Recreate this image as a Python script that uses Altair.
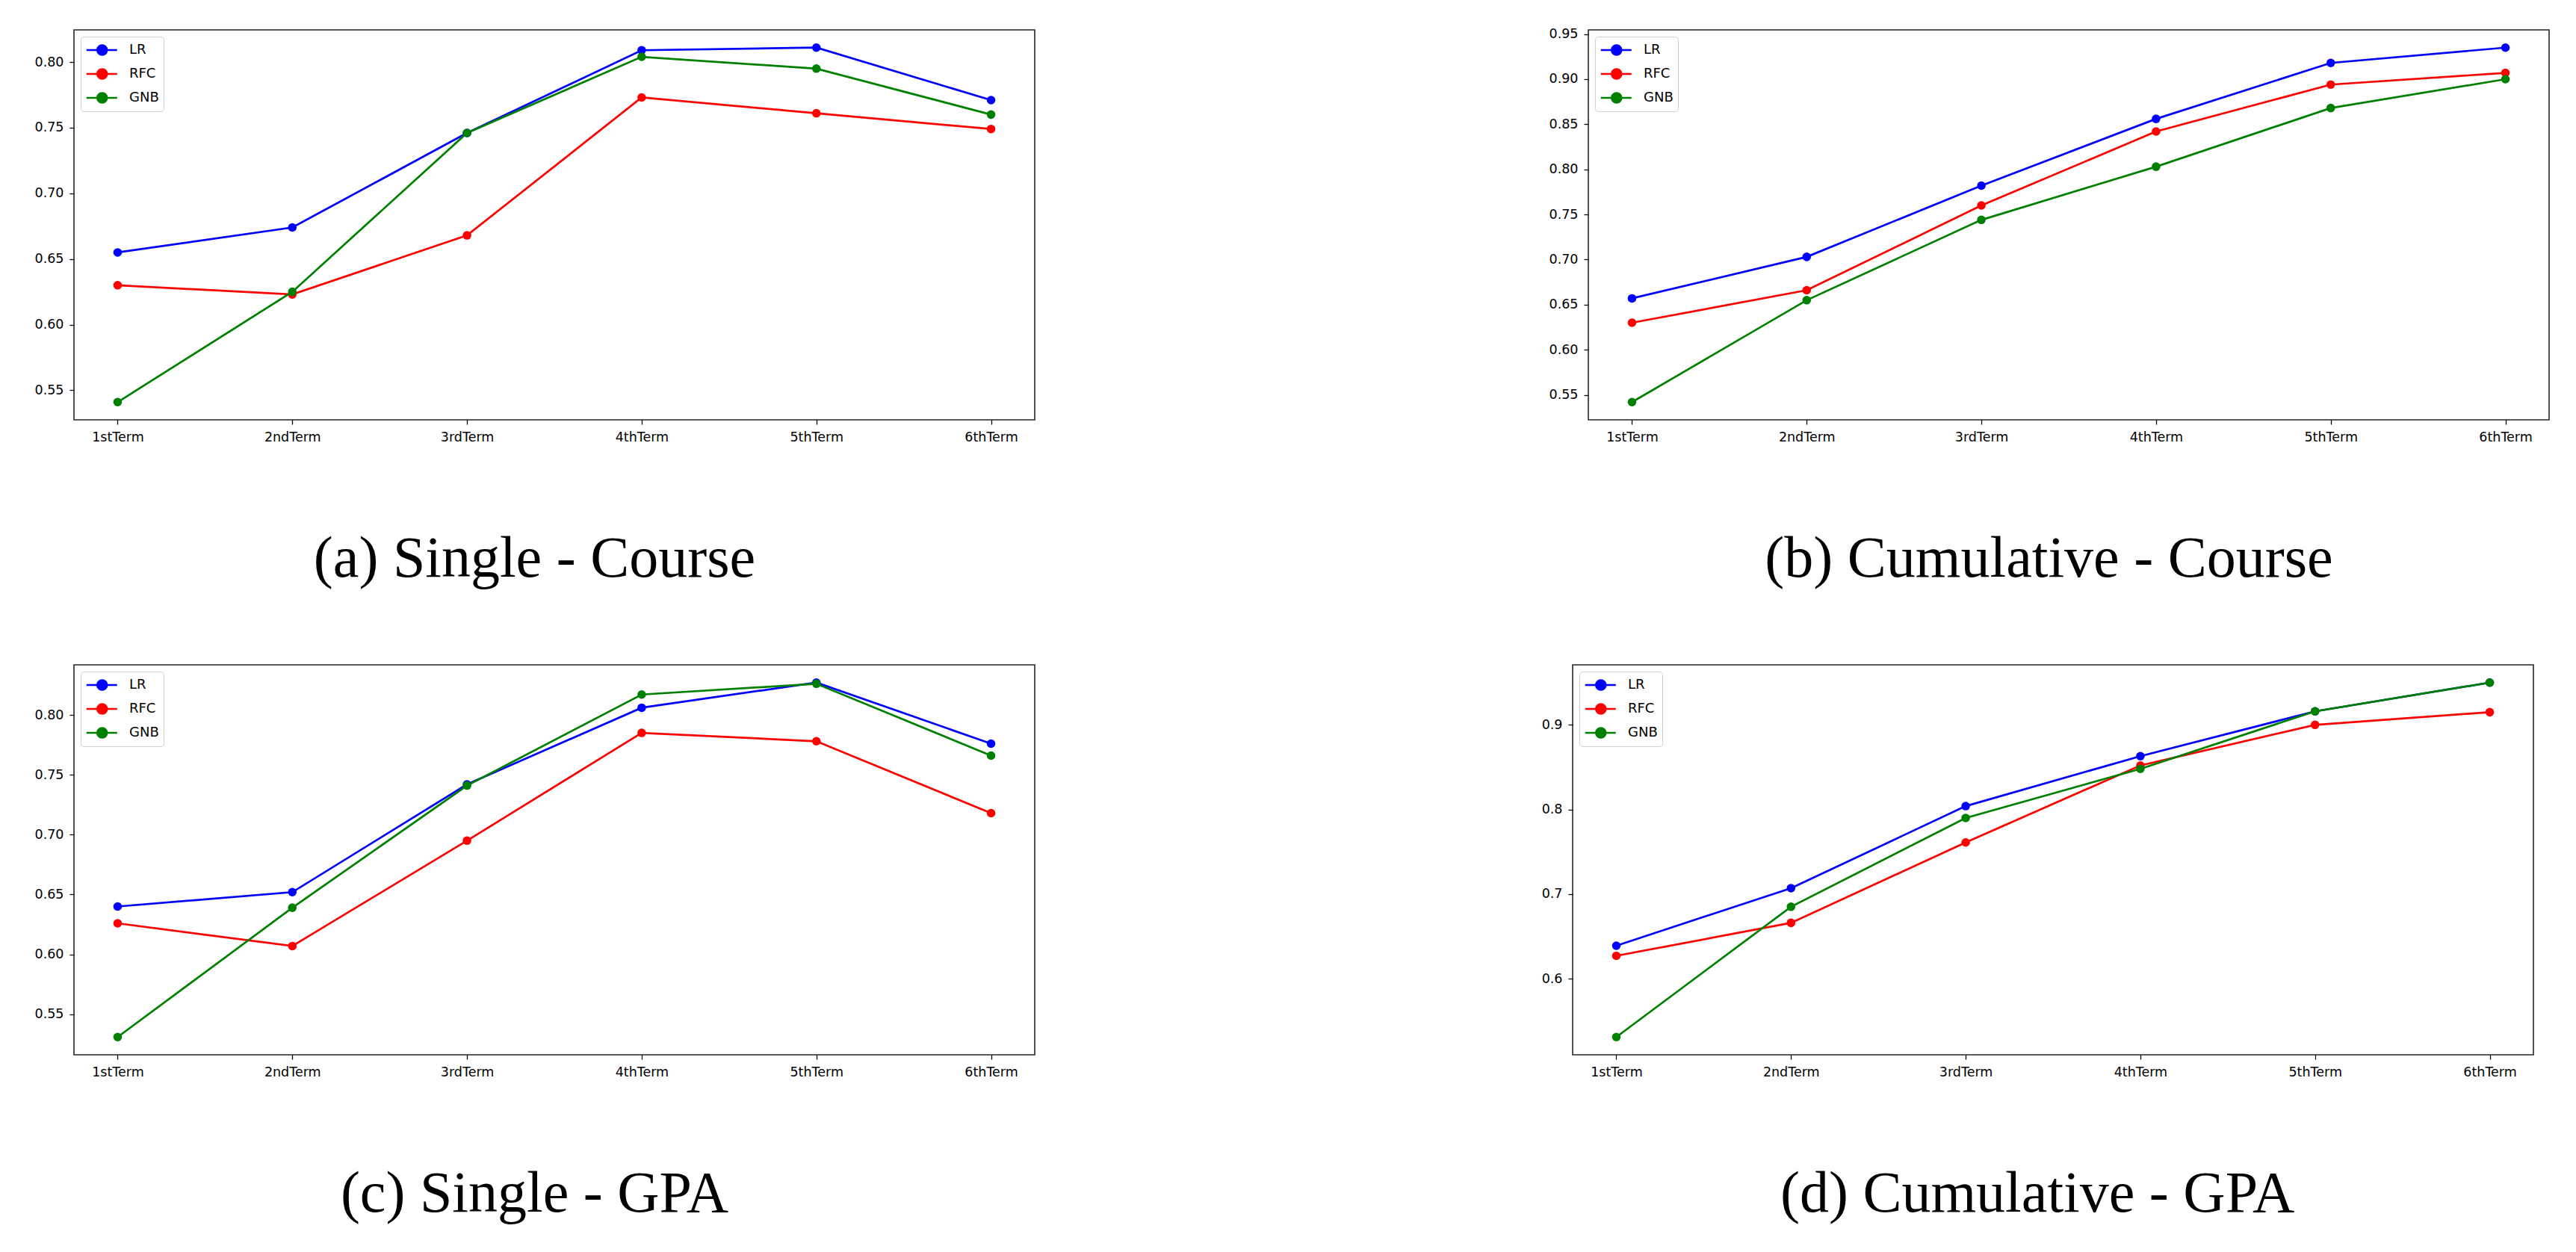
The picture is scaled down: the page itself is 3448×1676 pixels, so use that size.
import altair as alt
import pandas as pd

terms = ["1stTerm", "2ndTerm", "3rdTerm", "4thTerm", "5thTerm", "6thTerm"]
models = ["LR", "RFC", "GNB"]
colors = ["#0000ff", "#ff0000", "#008000"]

# (a) Single - Course
a_lr = [0.655, 0.674, 0.746, 0.809, 0.811, 0.771]
a_rfc = [0.630, 0.623, 0.668, 0.773, 0.761, 0.749]
a_gnb = [0.541, 0.625, 0.746, 0.804, 0.795, 0.760]

# (b) Cumulative - Course
b_lr = [0.657, 0.703, 0.782, 0.856, 0.918, 0.935]
b_rfc = [0.630, 0.666, 0.760, 0.842, 0.894, 0.907]
b_gnb = [0.542, 0.655, 0.744, 0.803, 0.868, 0.900]

# (c) Single - GPA
c_lr = [0.640, 0.652, 0.742, 0.806, 0.827, 0.776]
c_rfc = [0.626, 0.607, 0.695, 0.785, 0.778, 0.718]
c_gnb = [0.531, 0.639, 0.741, 0.817, 0.826, 0.766]

# (d) Cumulative - GPA
d_lr = [0.639, 0.707, 0.804, 0.863, 0.916, 0.950]
d_rfc = [0.627, 0.666, 0.761, 0.852, 0.900, 0.915]
d_gnb = [0.531, 0.685, 0.790, 0.848, 0.916, 0.950]

ticks_course = [0.55, 0.60, 0.65, 0.70, 0.75, 0.80]
ticks_cum_course = [0.55, 0.60, 0.65, 0.70, 0.75, 0.80, 0.85, 0.90, 0.95]
ticks_cum_gpa = [0.6, 0.7, 0.8, 0.9]

captions = ["(a) Single - Course", "(b) Cumulative - Course",
            "(c) Single - GPA", "(d) Cumulative - GPA"]

LEGEND_SYMBOL = "M-1,0L3,0M1.683,0A0.634,0.634,0,1,1,0.415,0A0.634,0.634,0,1,1,1.683,0Z"

TICK_FONT = "DejaVu Sans"


def panel(lr, rfc, gnb, caption, ticks, fmt, width, height):
    rows = []
    for m, vals in zip(models, [lr, rfc, gnb]):
        for t, v in zip(terms, vals):
            rows.append({"term": t, "model": m, "acc": v})
    df = pd.DataFrame(rows)
    allv = lr + rfc + gnb
    lo, hi = min(allv), max(allv)
    mg = 0.05 * (hi - lo)

    axis_style = dict(
        title=None, grid=False, domain=False,
        labelFont=TICK_FONT, labelFontSize=17.5, labelColor="#000000",
        tickColor="#000000", tickSize=6, tickWidth=1.3, labelPadding=8,
    )
    x = alt.X("term:N", sort=terms,
              scale=alt.Scale(type="point", padding=0.25),
              axis=alt.Axis(labelAngle=0, **axis_style))
    y = alt.Y("acc:Q",
              scale=alt.Scale(domain=[lo - mg, hi + mg], nice=False, zero=False),
              axis=alt.Axis(values=ticks, format=fmt, **axis_style))
    color = alt.Color(
        "model:N",
        scale=alt.Scale(domain=models, range=colors),
        legend=alt.Legend(
            title=None, orient="top-left", offset=9,
            symbolType=LEGEND_SYMBOL, symbolSize=420, symbolStrokeWidth=2.6,
            symbolOpacity=1,
            labelFont=TICK_FONT, labelFontSize=18, labelColor="#000000",
            labelOffset=35, rowPadding=8, padding=6,
            fillColor="white", strokeColor="#d0d0d0", cornerRadius=4,
        ),
    )
    layers = []
    for mname in models:
        base = alt.Chart(df).transform_filter(alt.datum.model == mname).encode(
            x=x, y=y, color=color)
        layers.append(base.mark_line(strokeWidth=2.7))
        layers.append(base.mark_circle(size=133, opacity=1))
    return alt.layer(*layers).properties(
        width=width, height=height,
        title=alt.TitleParams(
            caption, orient="bottom", anchor="middle", frame="bounds",
            font="Liberation Serif", fontSize=78, fontWeight="normal",
            color="#000000", baseline="alphabetic", offset=178,
        ),
    )


W, H = 1286, 522
pa = panel(a_lr, a_rfc, a_gnb, captions[0], ticks_course, ".2f", W, H)
pb = panel(b_lr, b_rfc, b_gnb, captions[1], ticks_cum_course, ".2f", W, H)
pc = panel(c_lr, c_rfc, c_gnb, captions[2], ticks_course, ".2f", W, H)
pd_ = panel(d_lr, d_rfc, d_gnb, captions[3], ticks_cum_gpa, ".1f", W, H)

row1 = alt.hconcat(pa, pb, spacing=741, bounds="flush").resolve_scale(
    color="independent").resolve_legend(color="independent")
row2 = alt.hconcat(pc, pd_, spacing=720, bounds="flush").resolve_scale(
    color="independent").resolve_legend(color="independent")

chart = alt.vconcat(row1, row2, spacing=100).resolve_scale(
    color="independent").resolve_legend(color="independent").properties(
    padding={"left": 37, "top": 27, "right": 5, "bottom": 5},
    background="white",
).configure_view(
    stroke="#262626", strokeWidth=1.6
)

chart.save("out.html", embed_options={"renderer": "svg", "actions": False})
